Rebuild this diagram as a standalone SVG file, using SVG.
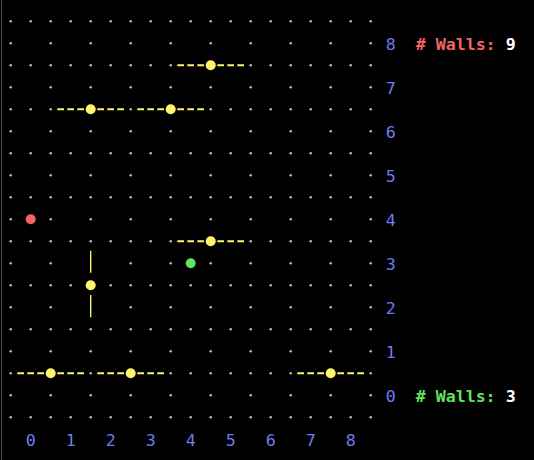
<svg xmlns="http://www.w3.org/2000/svg" xmlns:xlink="http://www.w3.org/1999/xlink" width="534" height="460" viewBox="0 0 534 460">
<style>
.dot{fill:#c4c4c4}
.lbl{font-family:"DejaVu Sans Mono","Liberation Mono",monospace;font-size:16.6px;fill:#6d7bf2;text-anchor:middle}
.info{font-family:"DejaVu Sans Mono","Liberation Mono",monospace;font-size:16.6px;font-weight:bold}
.hw{stroke:#fbf26a;stroke-width:2;stroke-dasharray:6.7 3.3;fill:none}
.vw{stroke:#fbf26a;stroke-width:1.4;fill:none}
.wc{fill:#fff56e}
</style>
<defs>
<circle id="d" class="dot" r="1.2"/>
<g id="evenRow">
<use xlink:href="#d" x="10.7"/><use xlink:href="#d" x="30.7"/><use xlink:href="#d" x="50.7"/><use xlink:href="#d" x="70.7"/><use xlink:href="#d" x="90.7"/><use xlink:href="#d" x="110.7"/><use xlink:href="#d" x="130.7"/><use xlink:href="#d" x="150.7"/><use xlink:href="#d" x="170.7"/><use xlink:href="#d" x="190.7"/><use xlink:href="#d" x="210.7"/><use xlink:href="#d" x="230.7"/><use xlink:href="#d" x="250.7"/><use xlink:href="#d" x="270.7"/><use xlink:href="#d" x="290.7"/><use xlink:href="#d" x="310.7"/><use xlink:href="#d" x="330.7"/><use xlink:href="#d" x="350.7"/><use xlink:href="#d" x="370.7"/>
</g>
<g id="oddRow">
<use xlink:href="#d" x="10.7"/><use xlink:href="#d" x="50.7"/><use xlink:href="#d" x="90.7"/><use xlink:href="#d" x="130.7"/><use xlink:href="#d" x="170.7"/><use xlink:href="#d" x="210.7"/><use xlink:href="#d" x="250.7"/><use xlink:href="#d" x="290.7"/><use xlink:href="#d" x="330.7"/><use xlink:href="#d" x="370.7"/>
</g>
</defs>
<rect width="534" height="460" fill="#000"/>
<line x1="1.5" y1="0" x2="1.5" y2="460" stroke="#4a4a4a" stroke-width="1"/>

<g id="grid">
<use xlink:href="#evenRow" y="21.3"/>
<use xlink:href="#oddRow" y="43.3"/>
<g transform="translate(0,65.3)">
<use xlink:href="#d" x="10.7"/><use xlink:href="#d" x="30.7"/><use xlink:href="#d" x="50.7"/><use xlink:href="#d" x="70.7"/><use xlink:href="#d" x="90.7"/><use xlink:href="#d" x="110.7"/><use xlink:href="#d" x="130.7"/><use xlink:href="#d" x="150.7"/><use xlink:href="#d" x="170.7"/><use xlink:href="#d" x="250.7"/><use xlink:href="#d" x="270.7"/><use xlink:href="#d" x="290.7"/><use xlink:href="#d" x="310.7"/><use xlink:href="#d" x="330.7"/><use xlink:href="#d" x="350.7"/><use xlink:href="#d" x="370.7"/>
</g>
<use xlink:href="#oddRow" y="87.3"/>
<g transform="translate(0,109.3)">
<use xlink:href="#d" x="10.7"/><use xlink:href="#d" x="30.7"/><use xlink:href="#d" x="50.7"/><use xlink:href="#d" x="130.7"/><use xlink:href="#d" x="210.7"/><use xlink:href="#d" x="230.7"/><use xlink:href="#d" x="250.7"/><use xlink:href="#d" x="270.7"/><use xlink:href="#d" x="290.7"/><use xlink:href="#d" x="310.7"/><use xlink:href="#d" x="330.7"/><use xlink:href="#d" x="350.7"/><use xlink:href="#d" x="370.7"/>
</g>
<use xlink:href="#oddRow" y="131.3"/>
<use xlink:href="#evenRow" y="153.3"/>
<use xlink:href="#oddRow" y="175.3"/>
<use xlink:href="#evenRow" y="197.3"/>
<use xlink:href="#oddRow" y="219.3"/>
<g transform="translate(0,241.3)">
<use xlink:href="#d" x="10.7"/><use xlink:href="#d" x="30.7"/><use xlink:href="#d" x="50.7"/><use xlink:href="#d" x="70.7"/><use xlink:href="#d" x="90.7"/><use xlink:href="#d" x="110.7"/><use xlink:href="#d" x="130.7"/><use xlink:href="#d" x="150.7"/><use xlink:href="#d" x="170.7"/><use xlink:href="#d" x="250.7"/><use xlink:href="#d" x="270.7"/><use xlink:href="#d" x="290.7"/><use xlink:href="#d" x="310.7"/><use xlink:href="#d" x="330.7"/><use xlink:href="#d" x="350.7"/><use xlink:href="#d" x="370.7"/>
</g>
<g transform="translate(0,263.3)">
<use xlink:href="#d" x="10.7"/><use xlink:href="#d" x="50.7"/><use xlink:href="#d" x="130.7"/><use xlink:href="#d" x="170.7"/><use xlink:href="#d" x="210.7"/><use xlink:href="#d" x="250.7"/><use xlink:href="#d" x="290.7"/><use xlink:href="#d" x="330.7"/><use xlink:href="#d" x="370.7"/>
</g>
<g transform="translate(0,285.3)">
<use xlink:href="#d" x="10.7"/><use xlink:href="#d" x="30.7"/><use xlink:href="#d" x="50.7"/><use xlink:href="#d" x="70.7"/><use xlink:href="#d" x="110.7"/><use xlink:href="#d" x="130.7"/><use xlink:href="#d" x="150.7"/><use xlink:href="#d" x="170.7"/><use xlink:href="#d" x="190.7"/><use xlink:href="#d" x="210.7"/><use xlink:href="#d" x="230.7"/><use xlink:href="#d" x="250.7"/><use xlink:href="#d" x="270.7"/><use xlink:href="#d" x="290.7"/><use xlink:href="#d" x="310.7"/><use xlink:href="#d" x="330.7"/><use xlink:href="#d" x="350.7"/><use xlink:href="#d" x="370.7"/>
</g>
<g transform="translate(0,307.3)">
<use xlink:href="#d" x="10.7"/><use xlink:href="#d" x="50.7"/><use xlink:href="#d" x="130.7"/><use xlink:href="#d" x="170.7"/><use xlink:href="#d" x="210.7"/><use xlink:href="#d" x="250.7"/><use xlink:href="#d" x="290.7"/><use xlink:href="#d" x="330.7"/><use xlink:href="#d" x="370.7"/>
</g>
<use xlink:href="#evenRow" y="329.3"/>
<use xlink:href="#oddRow" y="351.3"/>
<g transform="translate(0,373.3)">
<use xlink:href="#d" x="10.7"/><use xlink:href="#d" x="90.7"/><use xlink:href="#d" x="170.7"/><use xlink:href="#d" x="190.7"/><use xlink:href="#d" x="210.7"/><use xlink:href="#d" x="230.7"/><use xlink:href="#d" x="250.7"/><use xlink:href="#d" x="270.7"/><use xlink:href="#d" x="290.7"/><use xlink:href="#d" x="370.7"/>
</g>
<use xlink:href="#oddRow" y="395.3"/>
<use xlink:href="#evenRow" y="417.3"/>
</g>

<g id="walls">
<g id="wall-1"><line class="hw" x1="177.3" y1="65.3" x2="244" y2="65.3"/><circle class="wc" cx="210.7" cy="65.3" r="5"/></g>
<g id="wall-2"><line class="hw" x1="57.3" y1="109.3" x2="124" y2="109.3"/><circle class="wc" cx="90.7" cy="109.3" r="5"/></g>
<g id="wall-3"><line class="hw" x1="137.3" y1="109.3" x2="204" y2="109.3"/><circle class="wc" cx="170.7" cy="109.3" r="5"/></g>
<g id="wall-4"><line class="hw" x1="177.3" y1="241.3" x2="244" y2="241.3"/><circle class="wc" cx="210.7" cy="241.3" r="5"/></g>
<g id="wall-5"><line class="vw" x1="90.7" y1="250.7" x2="90.7" y2="272.7"/><line class="vw" x1="90.7" y1="295" x2="90.7" y2="317.3"/><circle class="wc" cx="90.7" cy="285.3" r="5"/></g>
<g id="wall-6"><line class="hw" x1="17.3" y1="373.3" x2="84" y2="373.3"/><circle class="wc" cx="50.7" cy="373.3" r="5"/></g>
<g id="wall-7"><line class="hw" x1="97.3" y1="373.3" x2="164" y2="373.3"/><circle class="wc" cx="130.7" cy="373.3" r="5"/></g>
<g id="wall-8"><line class="hw" x1="297.3" y1="373.3" x2="364" y2="373.3"/><circle class="wc" cx="330.7" cy="373.3" r="5"/></g>
</g>

<g id="pawn-red"><circle cx="30.7" cy="219.3" r="5" fill="#f56464"/></g>
<g id="pawn-green"><circle cx="190.7" cy="263.3" r="5" fill="#5ee45e"/></g>

<g id="row-labels">
<text class="lbl" x="390.7" y="49.6">8</text>
<text class="lbl" x="390.7" y="93.6">7</text>
<text class="lbl" x="390.7" y="137.6">6</text>
<text class="lbl" x="390.7" y="181.6">5</text>
<text class="lbl" x="390.7" y="225.6">4</text>
<text class="lbl" x="390.7" y="269.6">3</text>
<text class="lbl" x="390.7" y="313.6">2</text>
<text class="lbl" x="390.7" y="357.6">1</text>
<text class="lbl" x="390.7" y="401.6">0</text>
</g>
<g id="col-labels">
<text class="lbl" x="30.7" y="445.6">0</text>
<text class="lbl" x="70.7" y="445.6">1</text>
<text class="lbl" x="110.7" y="445.6">2</text>
<text class="lbl" x="150.7" y="445.6">3</text>
<text class="lbl" x="190.7" y="445.6">4</text>
<text class="lbl" x="230.7" y="445.6">5</text>
<text class="lbl" x="270.7" y="445.6">6</text>
<text class="lbl" x="310.7" y="445.6">7</text>
<text class="lbl" x="350.7" y="445.6">8</text>
</g>
<g id="walls-top"><text class="info" x="415.7" y="49.6"><tspan fill="#f56464"># Walls:</tspan><tspan fill="#ffffff" x="505.7">9</tspan></text></g>
<g id="walls-bottom"><text class="info" x="415.7" y="401.6"><tspan fill="#5ee45e"># Walls:</tspan><tspan fill="#ffffff" x="505.7">3</tspan></text></g>
</svg>
